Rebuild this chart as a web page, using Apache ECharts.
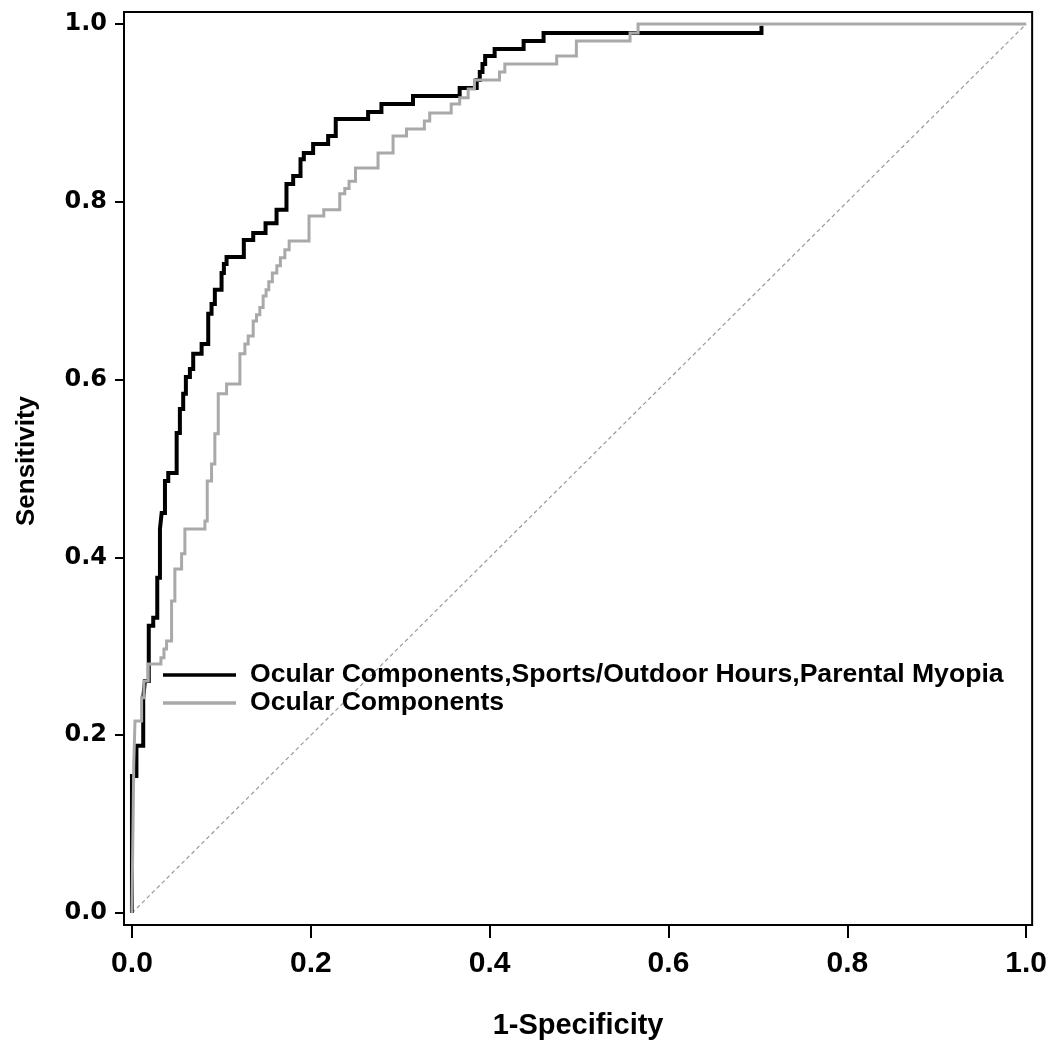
<!DOCTYPE html>
<html>
<head>
<meta charset="utf-8">
<script src="https://cdn.jsdelivr.net/npm/echarts@6/dist/echarts.min.js"></script>
<style>
html,body{margin:0;padding:0;background:#fff;}
#chart{width:1050px;height:1047px;}
</style>
</head>
<body>
<div id="chart"></div>
<script>
// ---- Data (step corners: top of each vertical rise) ----
const seriesNames = ['Ocular Components,Sports/Outdoor Hours,Parental Myopia', 'Ocular Components'];

const fullFPR = [0, 0, 0.005, 0.0126, 0.0145, 0.0188, 0.0238, 0.0283, 0.0313, 0.0332, 0.0369, 0.0406,
  0.050, 0.0536, 0.0573, 0.0603, 0.0648, 0.0685, 0.0779, 0.0853, 0.089, 0.0927, 0.1002, 0.1028,
  0.1058, 0.1251, 0.1356, 0.1494, 0.1617, 0.1728, 0.1803, 0.1885, 0.1922, 0.2026, 0.2194, 0.2279,
  0.2641, 0.2790, 0.3143, 0.3665, 0.3855, 0.389, 0.392, 0.395, 0.4056, 0.438, 0.4603, 0.704];
const fullTPR = [0, 0.154, 0.188, 0.242, 0.261, 0.323, 0.332, 0.377, 0.432, 0.450, 0.486, 0.495,
  0.540, 0.567, 0.584, 0.603, 0.612, 0.629, 0.640, 0.674, 0.685, 0.701, 0.720, 0.730,
  0.738, 0.757, 0.765, 0.776, 0.791, 0.820, 0.829, 0.848, 0.855, 0.865, 0.874, 0.893,
  0.901, 0.910, 0.919, 0.928, 0.937, 0.946, 0.955, 0.964, 0.972, 0.981, 0.990, 0.998];

const ocularFPR = [0, 0.002, 0.0034, 0.0108, 0.0134, 0.0182, 0.0324, 0.0358, 0.0387, 0.0443, 0.0480,
  0.0555, 0.0592, 0.0816, 0.0842, 0.089, 0.0927, 0.0965, 0.1058, 0.1207, 0.1263, 0.130, 0.1356,
  0.1393, 0.143, 0.1467, 0.150, 0.153, 0.157, 0.162, 0.166, 0.171, 0.1758, 0.198, 0.2145, 0.2324,
  0.238, 0.2428, 0.250, 0.2752, 0.292, 0.307, 0.327, 0.333, 0.357, 0.3665, 0.376, 0.383, 0.411,
  0.417, 0.475, 0.497, 0.557, 0.566, 1.0];
const ocularTPR = [0, 0.168, 0.216, 0.242, 0.261, 0.280, 0.287, 0.297, 0.306, 0.351, 0.387,
  0.404, 0.432, 0.441, 0.486, 0.505, 0.539, 0.584, 0.595, 0.629, 0.640, 0.649, 0.666,
  0.673, 0.681, 0.694, 0.701, 0.710, 0.720, 0.728, 0.737, 0.746, 0.756, 0.784, 0.791, 0.809,
  0.815, 0.823, 0.838, 0.855, 0.874, 0.882, 0.891, 0.900, 0.910, 0.917, 0.927, 0.937, 0.946,
  0.955, 0.964, 0.981, 0.990, 1.0, 1.0];

const refX = [0, 1];
const refY = [0, 1];

const tickValues = [0, 0.2, 0.4, 0.6, 0.8, 1.0];

function zip(a, b) { return a.map((v, i) => [v, b[i]]); }

const chart = echarts.init(document.getElementById('chart'), null, {renderer: 'canvas'});
const fmt = v => v.toFixed(1);

chart.setOption({
  backgroundColor: '#ffffff',
  animation: false,
  grid: {
    left: 124, right: 17, top: 12, bottom: 122,
    show: true, borderColor: '#000', borderWidth: 2, backgroundColor: 'transparent'
  },
  legend: {
    show: true,
    data: [{name: seriesNames[0]}, {name: seriesNames[1]}],
    orient: 'vertical',
    left: 163, top: 661, padding: 0,
    icon: 'rect',
    itemWidth: 73, itemHeight: 3.5, itemGap: 0,
    selectedMode: false,
    textStyle: {
      fontFamily: '"Liberation Sans", Arial, sans-serif', fontWeight: 'bold',
      fontSize: 26.6, color: '#000', lineHeight: 28, padding: [0, 0, 0, 9]
    }
  },
  xAxis: {
    type: 'value', min: -0.0089, max: 1.0067,
    name: '1-Specificity', nameLocation: 'middle', nameGap: 86,
    nameTextStyle: {
      fontFamily: '"Liberation Sans", Arial, sans-serif', fontWeight: 'bold',
      fontSize: 29, color: '#000'
    },
    axisLine: {show: true, onZero: false, lineStyle: {color: '#000', width: 2}},
    axisTick: {show: true, inside: false, length: 13, customValues: tickValues,
      lineStyle: {color: '#000', width: 2}},
    axisLabel: {customValues: tickValues, formatter: fmt, margin: 24,
      fontFamily: '"Liberation Sans", Arial, sans-serif', fontWeight: 'bold',
      fontSize: 30, color: '#000'},
    splitLine: {show: false}
  },
  yAxis: {
    type: 'value', min: -0.0135, max: 1.0135,
    name: 'Sensitivity', nameLocation: 'middle', nameGap: 84, nameRotate: 90,
    nameTextStyle: {
      fontFamily: '"Liberation Sans", Arial, sans-serif', fontWeight: 'bold',
      fontSize: 26, color: '#000', padding: [0, 0, 0, 15]
    },
    axisLine: {show: true, onZero: false, lineStyle: {color: '#000', width: 2}},
    axisTick: {show: true, inside: false, length: 9, customValues: tickValues,
      lineStyle: {color: '#000', width: 2}},
    axisLabel: {customValues: tickValues, formatter: fmt, margin: 17,
      fontFamily: '"DejaVu Sans", Verdana, sans-serif', fontWeight: 'bold',
      fontSize: 24, color: '#000'},
    splitLine: {show: false}
  },
  series: [
    {
      name: 'reference', type: 'line', data: zip(refX, refY), symbol: 'none', silent: true,
      lineStyle: {color: '#999999', width: 1.2, type: [4, 3]}, z: 1
    },
    {
      name: seriesNames[0], type: 'line', step: 'end', data: zip(fullFPR, fullTPR),
      symbol: 'none', itemStyle: {color: '#000'},
      lineStyle: {color: '#000', width: 4, join: 'miter', cap: 'butt'}, z: 2
    },
    {
      name: seriesNames[1], type: 'line', step: 'end', data: zip(ocularFPR, ocularTPR),
      symbol: 'none', itemStyle: {color: '#a9a9a9'},
      lineStyle: {color: '#a9a9a9', width: 3, join: 'miter', cap: 'butt'}, z: 3
    }
  ]
});
</script>
</body>
</html>
